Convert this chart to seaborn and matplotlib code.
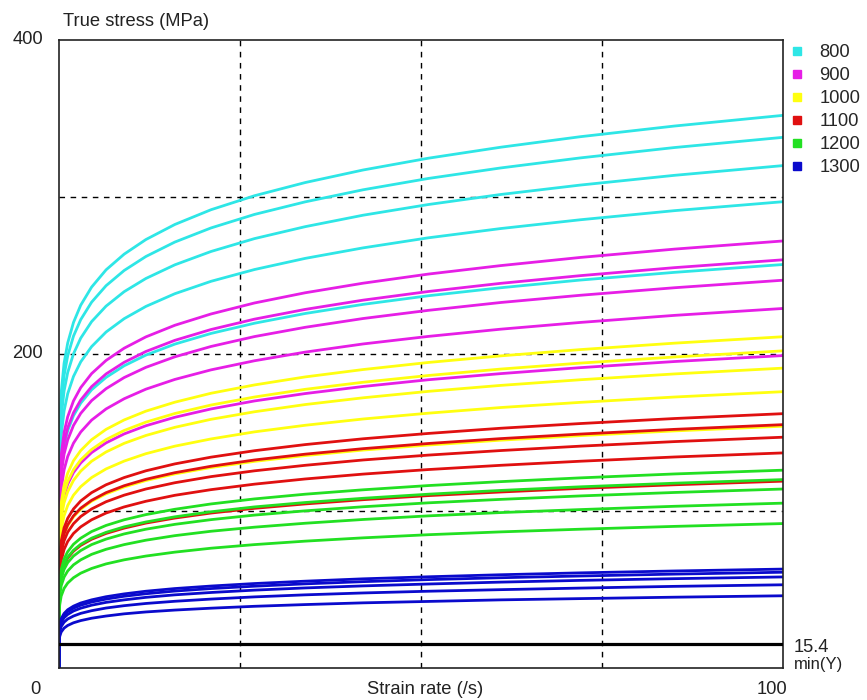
import numpy as np
import pandas as pd
import matplotlib
matplotlib.use("Agg")
import matplotlib.pyplot as plt
from matplotlib.lines import Line2D
import seaborn as sns

# Strain-rate sample positions (/s)
strain_rate = [0, 0.02, 0.1, 0.3, 0.7, 1.2, 2, 3, 4.5, 6.5, 9, 12, 16, 21, 27, 34, 42, 51, 61, 72, 85, 100]

# True stress (MPa), five curves per temperature
t800 = [
    [0, 126.7, 153.6, 175.3, 194.1, 207.0, 220.1, 231.1, 242.6, 253.6, 263.6, 272.9, 282.5, 291.9, 300.8, 309.2, 317.2, 324.7, 331.7, 338.4, 345.2, 352],
    [0, 121.7, 147.5, 168.3, 186.3, 198.8, 211.4, 221.9, 233.0, 243.5, 253.2, 262.1, 271.3, 280.3, 288.9, 296.9, 304.6, 311.8, 318.5, 324.9, 331.5, 338],
    [0, 115.2, 139.7, 159.4, 176.4, 188.2, 200.1, 210.1, 220.6, 230.5, 239.7, 248.1, 256.8, 265.3, 273.5, 281.1, 288.4, 295.2, 301.6, 307.6, 313.8, 320],
    [0, 106.9, 129.6, 147.9, 163.7, 174.7, 185.7, 195.0, 204.7, 214.0, 222.5, 230.3, 238.4, 246.3, 253.8, 260.9, 267.6, 274.0, 279.9, 285.5, 291.3, 297],
    [0, 92.5, 112.2, 128.0, 141.7, 151.2, 160.7, 168.7, 177.2, 185.1, 192.5, 199.3, 206.3, 213.1, 219.6, 225.8, 231.6, 237.1, 242.2, 247.1, 252.0, 257],
]
t900 = [
    [0, 97.9, 118.7, 135.5, 150.0, 160.0, 170.1, 178.6, 187.5, 195.9, 203.7, 210.9, 218.3, 225.5, 232.5, 239.0, 245.1, 250.9, 256.3, 261.5, 266.8, 272],
    [0, 93.6, 113.5, 129.5, 143.3, 152.9, 162.6, 170.7, 179.2, 187.3, 194.7, 201.6, 208.7, 215.6, 222.2, 228.4, 234.3, 239.8, 245.0, 249.9, 255.0, 260],
    [0, 88.9, 107.8, 123.0, 136.2, 145.3, 154.5, 162.2, 170.3, 177.9, 185.0, 191.5, 198.2, 204.8, 211.1, 217.0, 222.6, 227.8, 232.8, 237.4, 242.2, 247],
    [0, 82.4, 100.0, 114.0, 126.2, 134.7, 143.2, 150.3, 157.9, 165.0, 171.5, 177.6, 183.8, 189.9, 195.7, 201.2, 206.4, 211.2, 215.8, 220.1, 224.6, 229],
    [0, 71.6, 86.9, 99.1, 109.7, 117.1, 124.5, 130.6, 137.2, 143.4, 149.1, 154.3, 159.7, 165.0, 170.1, 174.8, 179.3, 183.6, 187.5, 191.3, 195.2, 199],
]
t1000 = [
    [0, 76.0, 92.1, 105.1, 116.3, 124.1, 132.0, 138.5, 145.4, 152.0, 158.0, 163.6, 169.3, 175.0, 180.3, 185.4, 190.1, 194.6, 198.8, 202.8, 206.9, 211],
    [0, 72.7, 88.2, 100.6, 111.4, 118.8, 126.3, 132.6, 139.2, 145.5, 151.3, 156.6, 162.1, 167.5, 172.6, 177.5, 182.0, 186.3, 190.4, 194.2, 198.1, 202],
    [0, 68.8, 83.4, 95.1, 105.3, 112.3, 119.5, 125.4, 131.7, 137.6, 143.1, 148.1, 153.3, 158.4, 163.2, 167.8, 172.1, 176.2, 180.0, 183.6, 187.3, 191],
    [0, 63.4, 76.8, 87.6, 97.0, 103.5, 110.1, 115.5, 121.3, 126.8, 131.8, 136.5, 141.3, 145.9, 150.4, 154.6, 158.6, 162.3, 165.9, 169.2, 172.6, 176],
    [0, 55.4, 67.2, 76.7, 84.9, 90.6, 96.3, 101.1, 106.2, 110.9, 115.3, 119.4, 123.6, 127.7, 131.6, 135.3, 138.8, 142.0, 145.1, 148.0, 151.0, 154],
]
t1100 = [
    [0, 58.3, 70.7, 80.7, 89.3, 95.3, 101.3, 106.4, 111.7, 116.7, 121.3, 125.6, 130.0, 134.3, 138.4, 142.3, 146.0, 149.4, 152.7, 155.7, 158.9, 162],
    [0, 55.8, 67.7, 77.2, 85.5, 91.2, 96.9, 101.8, 106.8, 111.7, 116.1, 120.2, 124.4, 128.5, 132.5, 136.2, 139.7, 143.0, 146.1, 149.0, 152.0, 155],
    [0, 52.9, 64.2, 73.2, 81.0, 86.5, 91.9, 96.5, 101.3, 105.9, 110.1, 114.0, 118.0, 121.9, 125.6, 129.1, 132.5, 135.6, 138.5, 141.3, 144.2, 147],
    [0, 49.3, 59.8, 68.2, 75.5, 80.6, 85.7, 89.9, 94.4, 98.7, 102.6, 106.2, 110.0, 113.6, 117.1, 120.4, 123.5, 126.4, 129.1, 131.7, 134.4, 137],
    [0, 42.8, 51.9, 59.3, 65.6, 70.0, 74.4, 78.1, 82.0, 85.7, 89.1, 92.3, 95.5, 98.7, 101.7, 104.5, 107.2, 109.8, 112.1, 114.4, 116.7, 119],
]
t1200 = [
    [0, 45.4, 55.0, 62.7, 69.5, 74.1, 78.8, 82.7, 86.9, 90.8, 94.4, 97.7, 101.1, 104.5, 107.7, 110.7, 113.5, 116.2, 118.7, 121.1, 123.6, 126],
    [0, 43.2, 52.4, 59.8, 66.2, 70.6, 75.0, 78.8, 82.7, 86.4, 89.9, 93.0, 96.3, 99.5, 102.6, 105.4, 108.1, 110.7, 113.1, 115.4, 117.7, 120],
    [0, 41.0, 49.8, 56.8, 62.8, 67.1, 71.3, 74.8, 78.6, 82.1, 85.4, 88.4, 91.5, 94.5, 97.4, 100.1, 102.7, 105.2, 107.4, 109.6, 111.8, 114],
    [0, 37.8, 45.8, 52.3, 57.9, 61.8, 65.7, 68.9, 72.4, 75.6, 78.6, 81.4, 84.3, 87.1, 89.7, 92.2, 94.6, 96.9, 99.0, 100.9, 103.0, 105],
    [0, 33.1, 40.2, 45.8, 50.7, 54.1, 57.5, 60.4, 63.4, 66.3, 68.9, 71.3, 73.8, 76.3, 78.6, 80.8, 82.9, 84.9, 86.7, 88.4, 90.2, 92],
]
t1300 = [
    [0, 22.7, 27.5, 31.4, 34.7, 37.1, 39.4, 41.4, 43.4, 45.4, 47.2, 48.9, 50.6, 52.2, 53.8, 55.3, 56.8, 58.1, 59.4, 60.6, 61.8, 63],
    [0, 22.0, 26.6, 30.4, 33.6, 35.9, 38.1, 40.0, 42.0, 43.9, 45.7, 47.3, 49.0, 50.6, 52.1, 53.6, 55.0, 56.3, 57.5, 58.6, 59.8, 61],
    [0, 20.9, 25.3, 28.9, 32.0, 34.1, 36.3, 38.1, 40.0, 41.8, 43.4, 45.0, 46.6, 48.1, 49.6, 51.0, 52.3, 53.5, 54.7, 55.8, 56.9, 58],
    [0, 19.1, 23.1, 26.4, 29.2, 31.2, 33.1, 34.8, 36.5, 38.2, 39.7, 41.1, 42.5, 43.9, 45.3, 46.6, 47.8, 48.9, 49.9, 50.9, 52.0, 53],
    [0, 16.6, 20.1, 22.9, 25.4, 27.1, 28.8, 30.2, 31.7, 33.1, 34.5, 35.7, 36.9, 38.1, 39.3, 40.4, 41.5, 42.4, 43.4, 44.2, 45.1, 46],
]
temperatures = ["800", "900", "1000", "1100", "1200", "1300"]
colors = ["#2EE6E6", "#E61EE6", "#FFFF10", "#E01010", "#22E022", "#0A0ACC"]
min_y = 15.4

x_ticks = [0, 100]
y_ticks = [200, 400]

all_sets = [t800, t900, t1000, t1100, t1200, t1300]
rows = []
for temp, curves in zip(temperatures, all_sets):
    for ci, curve in enumerate(curves):
        for xv, yv in zip(strain_rate, curve):
            rows.append({"rate": xv, "stress": yv, "temp": temp, "curve": f"{temp}_{ci}"})
df = pd.DataFrame(rows)

sns.set_style("white")
plt.rcParams["font.family"] = ["Liberation Sans", "DejaVu Sans"]

W, H = 867, 700
fig = plt.figure(figsize=(W / 100, H / 100), dpi=100)
ax = fig.add_axes([59 / W, 1 - 668 / H, (783 - 59) / W, (668 - 40) / H])

sns.lineplot(data=df, x="rate", y="stress", hue="temp", units="curve", estimator=None,
             palette=dict(zip(temperatures, colors)), hue_order=temperatures,
             linewidth=2.0, ax=ax, legend=False, sort=False)

ax.axhline(min_y, color="black", linewidth=2.3, zorder=5)

ax.set_xlim(0, 100)
ax.set_ylim(0, 400)
for gx in [25, 50, 75]:
    ax.axvline(gx, color="black", linestyle=(0, (4, 4)), linewidth=1.0, zorder=0.5)
for gy in [100, 200, 300]:
    ax.axhline(gy, color="black", linestyle=(0, (4, 4)), linewidth=1.0, zorder=0.5)

ax.set_xticks([])
ax.set_yticks([])
ax.set_xlabel("")
ax.set_ylabel("")
for sp in ax.spines.values():
    sp.set_visible(True)
    sp.set_color("#222222")
    sp.set_linewidth(1.2)

fs = 13.2
tc = "#222222"
# y tick labels
for v, py in zip(y_ticks, [353.5, 39.5]):
    fig.text(43 / W, 1 - py / H, str(v), ha="right", va="center", fontsize=fs, color=tc)
# x tick labels
fig.text(35 / W, 1 - 690 / H, str(x_ticks[0]), ha="center", va="center", fontsize=fs, color=tc)
fig.text(772 / W, 1 - 690 / H, str(x_ticks[1]), ha="center", va="center", fontsize=fs, color=tc)
fig.text(425 / W, 1 - 690 / H, "Strain rate (/s)", ha="center", va="center", fontsize=fs, color=tc)
fig.text(63 / W, 1 - 22 / H, "True stress (MPa)", ha="left", va="center", fontsize=fs, color=tc)

# min(Y) annotation
fig.text(794 / W, 1 - 647 / H, f"{min_y}", ha="left", va="center", fontsize=fs, color=tc)
fig.text(794 / W, 1 - 665 / H, "min(Y)", ha="left", va="center", fontsize=12, color=tc)

handles = [Line2D([], [], marker="s", linestyle="", color=c, markersize=5.5) for c in colors]
fig.legend(handles, temperatures, loc="upper left", bbox_to_anchor=(791 / W, 1 - 44 / H),
           frameon=False, fontsize=fs, handlelength=0.7, handletextpad=0.85, labelspacing=0.33,
           borderaxespad=0, borderpad=0)

fig.savefig("out.png", dpi=100)
